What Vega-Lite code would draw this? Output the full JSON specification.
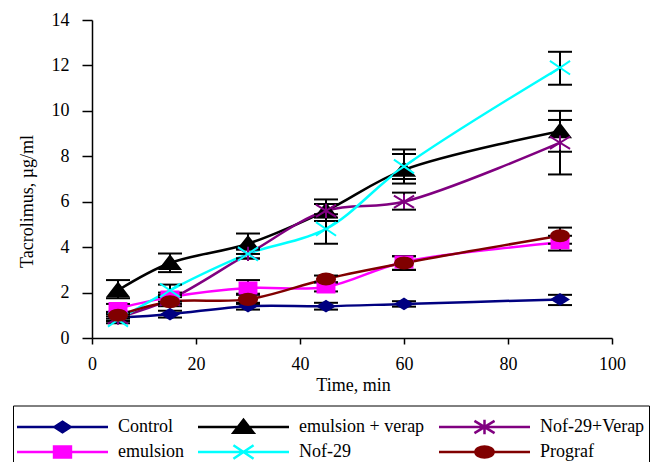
{
  "$schema": "https://vega.github.io/schema/vega-lite/v6.json",
  "autosize": {"type": "none"},
  "padding": {"left": 92, "top": 20, "right": 48, "bottom": 124},
  "width": 520,
  "height": 318,
  "background": "white",
  "config": {
    "view": {"stroke": null},
    "font": "Liberation Serif",
    "axis": {
      "grid": false,
      "domainColor": "black",
      "domainWidth": 1.5,
      "tickColor": "black",
      "tickWidth": 1.5,
      "labelFont": "Liberation Serif",
      "labelFontSize": 18,
      "labelColor": "black",
      "labelFlush": false,
      "titleFont": "Liberation Serif",
      "titleFontSize": 18,
      "titleFontWeight": "normal",
      "titleColor": "black"
    },
    "legend": {
      "labelFont": "Liberation Serif",
      "labelFontSize": 18,
      "labelColor": "black",
      "titleFont": "Liberation Serif"
    }
  },
  "resolve": {"scale": {"shape": "independent", "fill": "independent", "stroke": "independent"}},
  "data": {
    "values": [
      {"time": 5, "series": "Control", "value": 0.9, "lo": 0.75, "hi": 1.05},
      {"time": 15, "series": "Control", "value": 1.05, "lo": 0.9, "hi": 1.2},
      {"time": 30, "series": "Control", "value": 1.4, "lo": 1.25, "hi": 1.55},
      {"time": 45, "series": "Control", "value": 1.4, "lo": 1.25, "hi": 1.55},
      {"time": 60, "series": "Control", "value": 1.5, "lo": 1.38, "hi": 1.62},
      {"time": 90, "series": "Control", "value": 1.7, "lo": 1.45, "hi": 1.9},
      {"time": 5, "series": "emulsion + verap", "value": 2.1, "lo": 1.75, "hi": 2.55},
      {"time": 15, "series": "emulsion + verap", "value": 3.3, "lo": 2.9, "hi": 3.72},
      {"time": 30, "series": "emulsion + verap", "value": 4.15, "lo": 3.7, "hi": 4.6},
      {"time": 45, "series": "emulsion + verap", "value": 5.6, "lo": 5.15, "hi": 6.1},
      {"time": 60, "series": "emulsion + verap", "value": 7.4, "lo": 6.8, "hi": 8.3},
      {"time": 90, "series": "emulsion + verap", "value": 9.1, "lo": 8.2, "hi": 10.0},
      {"time": 5, "series": "Nof-29+Verap", "value": 0.9, "lo": 0.75, "hi": 1.05},
      {"time": 15, "series": "Nof-29+Verap", "value": 1.7, "lo": 1.5, "hi": 1.9},
      {"time": 30, "series": "Nof-29+Verap", "value": 3.7, "lo": 3.5, "hi": 3.95},
      {"time": 45, "series": "Nof-29+Verap", "value": 5.6, "lo": 5.3, "hi": 5.9},
      {"time": 60, "series": "Nof-29+Verap", "value": 6.0, "lo": 5.65, "hi": 6.4},
      {"time": 90, "series": "Nof-29+Verap", "value": 8.6, "lo": 7.2, "hi": 9.6},
      {"time": 5, "series": "emulsion", "value": 1.3, "lo": 1.1, "hi": 1.5},
      {"time": 15, "series": "emulsion", "value": 1.8, "lo": 1.6, "hi": 2.0},
      {"time": 30, "series": "emulsion", "value": 2.2, "lo": 1.95, "hi": 2.55},
      {"time": 45, "series": "emulsion", "value": 2.25, "lo": 2.05, "hi": 2.45},
      {"time": 60, "series": "emulsion", "value": 3.35, "lo": 3.0, "hi": 3.6},
      {"time": 90, "series": "emulsion", "value": 4.2, "lo": 3.85, "hi": 4.5},
      {"time": 5, "series": "Nof-29", "value": 0.8, "lo": 0.65, "hi": 0.95},
      {"time": 15, "series": "Nof-29", "value": 2.1, "lo": 1.9, "hi": 2.35},
      {"time": 30, "series": "Nof-29", "value": 3.7, "lo": 3.5, "hi": 3.9},
      {"time": 45, "series": "Nof-29", "value": 4.8, "lo": 4.15, "hi": 5.45},
      {"time": 60, "series": "Nof-29", "value": 7.55, "lo": 7.0, "hi": 8.1},
      {"time": 90, "series": "Nof-29", "value": 11.9, "lo": 11.15, "hi": 12.6},
      {"time": 5, "series": "Prograf", "value": 1.0, "lo": 0.85, "hi": 1.15},
      {"time": 15, "series": "Prograf", "value": 1.6, "lo": 1.4, "hi": 1.8},
      {"time": 30, "series": "Prograf", "value": 1.7, "lo": 1.5, "hi": 1.9},
      {"time": 45, "series": "Prograf", "value": 2.6, "lo": 2.45, "hi": 2.75},
      {"time": 60, "series": "Prograf", "value": 3.3, "lo": 3.0, "hi": 3.6},
      {"time": 90, "series": "Prograf", "value": 4.5, "lo": 4.15, "hi": 4.86}
    ]
  },
  "encoding": {
    "x": {
      "field": "time", "type": "quantitative",
      "scale": {"domain": [0, 100], "nice": false},
      "axis": {"title": "Time, min", "values": [0, 20, 40, 60, 80, 100], "tickSize": 6, "labelPadding": 11, "titleX": 261, "titleY": 47, "titleBaseline": "middle"}
    },
    "y": {
      "field": "value", "type": "quantitative",
      "scale": {"domain": [0, 14], "nice": false},
      "axis": {"title": "Tacrolimus, µg/ml", "values": [0, 2, 4, 6, 8, 10, 12, 14], "tickSize": 10, "labelPadding": 13, "titleX": -65, "titleY": 181, "titleBaseline": "middle", "titleAlign": "center"}
    }
  },
  "layer": [
    {
      "mark": {"type": "line", "interpolate": "catmull-rom", "strokeWidth": 2.5},
      "encoding": {
        "stroke": {
          "field": "series", "type": "nominal", "legend": null,
          "scale": {"domain": ["Control", "emulsion", "emulsion + verap", "Nof-29", "Nof-29+Verap", "Prograf"],
                    "range": ["#000080", "#ff00ff", "#000000", "#00ffff", "#800080", "#800000"]}
        }
      }
    },
    {
      "mark": {"type": "rule", "color": "black", "strokeWidth": 2},
      "encoding": {
        "y": {"field": "lo", "type": "quantitative"},
        "y2": {"field": "hi"}
      }
    },
    {
      "mark": {"type": "tick", "orient": "horizontal", "color": "black", "size": 24, "thickness": 2, "opacity": 1},
      "encoding": {"y": {"field": "lo", "type": "quantitative"}}
    },
    {
      "mark": {"type": "tick", "orient": "horizontal", "color": "black", "size": 24, "thickness": 2, "opacity": 1},
      "encoding": {"y": {"field": "hi", "type": "quantitative"}}
    },
    {
      "mark": {"type": "point", "filled": true, "opacity": 1, "size": 169, "strokeWidth": 2},
      "encoding": {
        "shape": {
          "field": "series", "type": "nominal", "legend": null,
          "scale": {"domain": ["Control", "emulsion", "emulsion + verap", "Nof-29", "Nof-29+Verap", "Prograf"],
                    "range": [
                      "M-1.25,0L0,-0.8L1.25,0L0,0.8Z",
                      "M-1.3,-0.85H1.3V0.85H-1.3Z",
                      "M0,-1.1L1.55,0.9L-1.55,0.9Z",
                      "M-1.55,-1.05L1.55,1.05M-1.55,1.05L1.55,-1.05",
                      "M-1.55,-0.95L1.55,0.95M-1.55,0.95L1.55,-0.95M0,-1.1V1.1",
                      "M-1.4,0A1.4,0.85,0,1,1,1.4,0A1.4,0.85,0,1,1,-1.4,0Z"
                    ]}
        },
        "stroke": {
          "field": "series", "type": "nominal", "legend": null,
          "scale": {"domain": ["Control", "emulsion", "emulsion + verap", "Nof-29", "Nof-29+Verap", "Prograf"],
                    "range": ["#000080", "#ff00ff", "#000000", "#00ffff", "#800080", "#800000"]}
        },
        "fill": {
          "field": "series", "type": "nominal", "legend": null,
          "scale": {"domain": ["Control", "emulsion", "emulsion + verap", "Nof-29", "Nof-29+Verap", "Prograf"],
                    "range": ["#000080", "#ff00ff", "#000000", "#00ffff", "#800080", "#800000"]}
        }
      }
    },
    {
      "mark": {"type": "point", "filled": true, "opacity": 0, "size": 169, "strokeWidth": 2.5},
      "encoding": {
        "shape": {
          "field": "series", "type": "nominal",
          "scale": {"domain": ["Control", "emulsion", "emulsion + verap", "Nof-29", "Nof-29+Verap", "Prograf"],
                    "range": [
                      "M-7,0H7M-1.25,0L0,-0.8L1.25,0L0,0.8Z",
                      "M-7,0H7M-1.3,-0.85H1.3V0.85H-1.3Z",
                      "M-7,0H7M0,-1.1L1.55,0.9L-1.55,0.9Z",
                      "M-7,0H7M-1.55,-1.05L1.55,1.05M-1.55,1.05L1.55,-1.05",
                      "M-7,0H7M-1.55,-0.95L1.55,0.95M-1.55,0.95L1.55,-0.95M0,-1.1V1.1",
                      "M-7,0H7M-1.4,0A1.4,0.85,0,1,1,1.4,0A1.4,0.85,0,1,1,-1.4,0Z"
                    ]},
          "legend": {
            "title": " ",
            "titleFontSize": 4,
            "titlePadding": 2,
            "orient": "none",
            "legendX": -79,
            "legendY": 385.5,
            "columns": 3,
            "padding": 4,
            "strokeColor": "black",
            "clipHeight": 23,
            "rowPadding": 2,
            "columnPadding": 14,
            "symbolOffset": 36.5,
            "labelOffset": 46.5,
            "symbolSize": 169,
            "symbolStrokeWidth": 2.5,
            "symbolOpacity": 1
          }
        },
        "stroke": {
          "field": "series", "type": "nominal",
          "scale": {"domain": ["Control", "emulsion", "emulsion + verap", "Nof-29", "Nof-29+Verap", "Prograf"],
                    "range": ["#000080", "#ff00ff", "#000000", "#00ffff", "#800080", "#800000"]}
        },
        "fill": {
          "field": "series", "type": "nominal",
          "scale": {"domain": ["Control", "emulsion", "emulsion + verap", "Nof-29", "Nof-29+Verap", "Prograf"],
                    "range": ["#000080", "#ff00ff", "#000000", "#00ffff", "#800080", "#800000"]}
        }
      }
    }
  ]
}
